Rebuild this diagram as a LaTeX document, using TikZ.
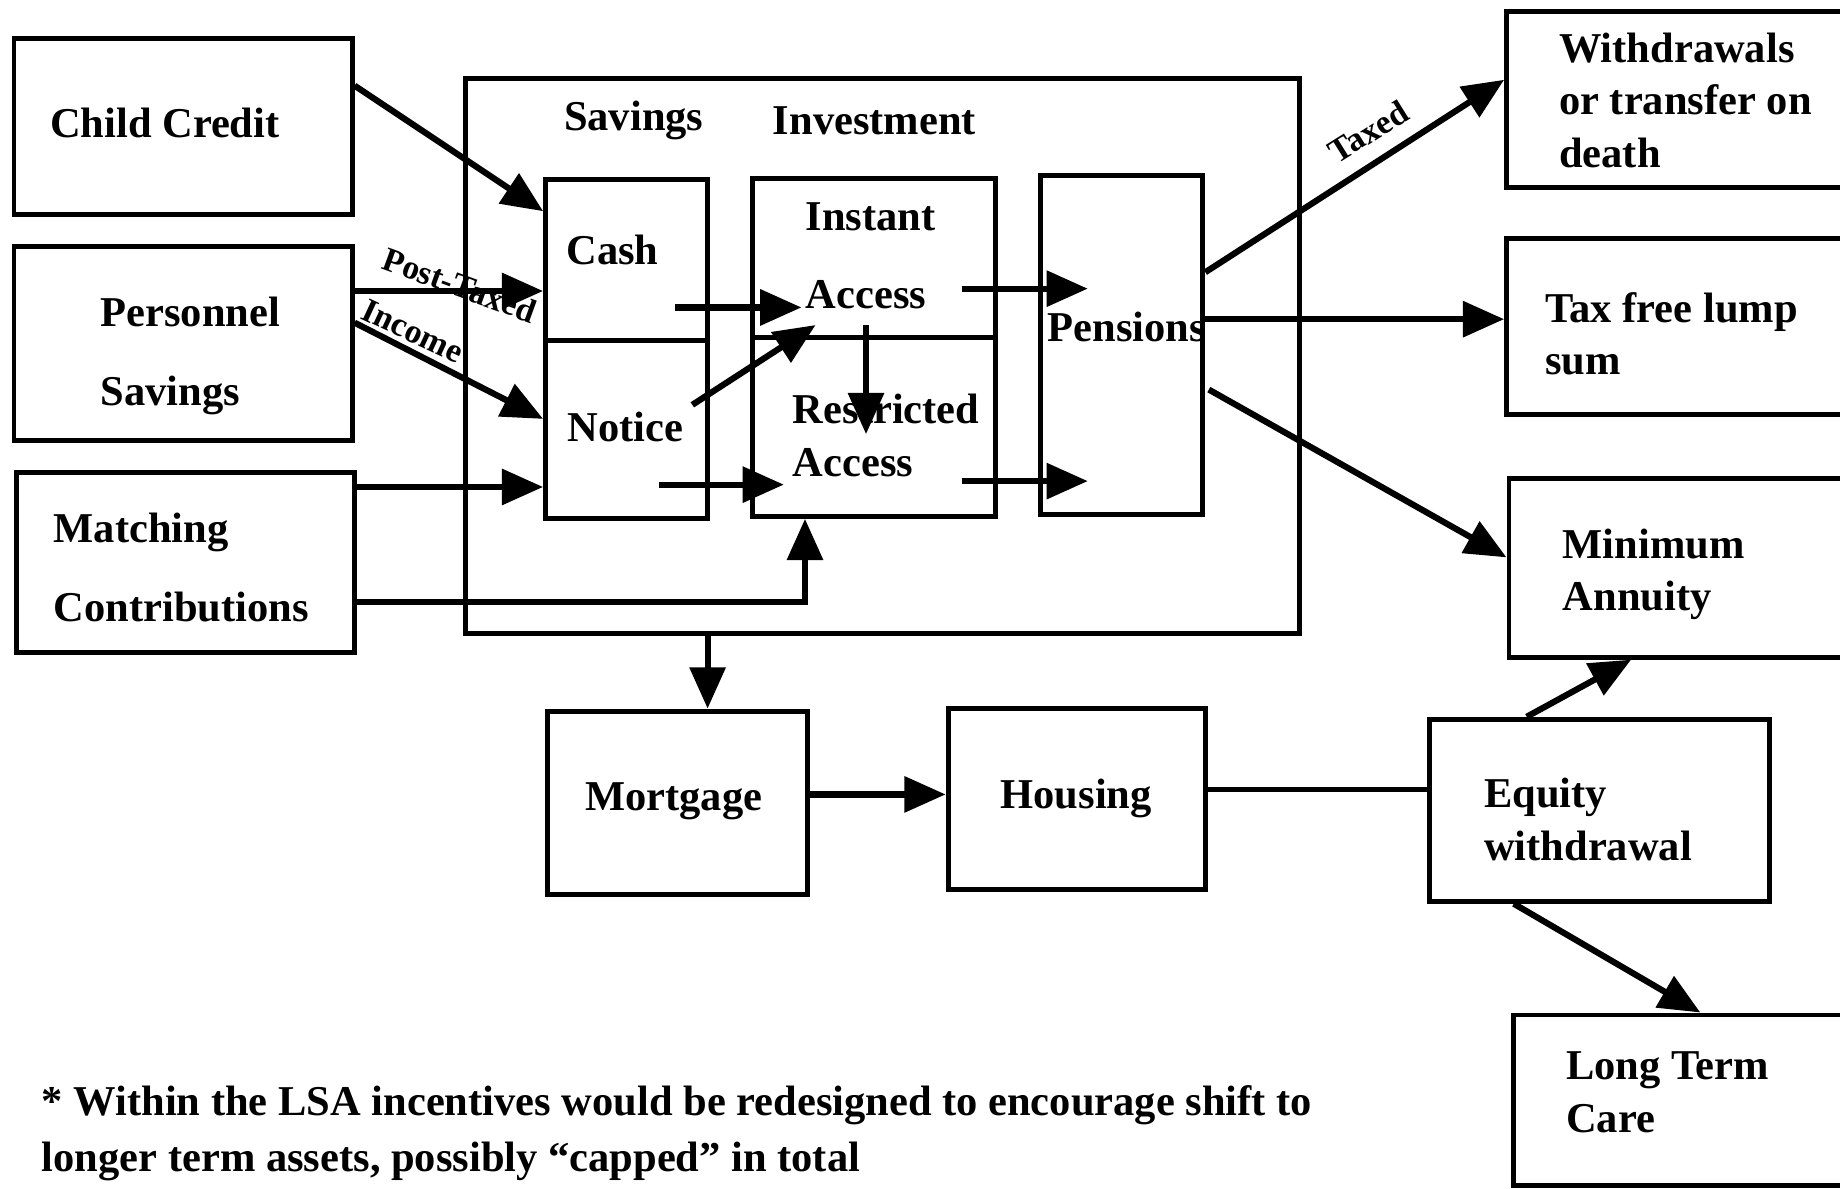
\documentclass[tikz,border=0pt]{standalone}
\usepackage{fontspec}
\setmainfont{Liberation Serif}
\usetikzlibrary{arrows.meta}

\tikzset{
  box/.style={draw, line width=1.2pt, inner sep=0pt},
  txt/.style={anchor=west, align=left, inner sep=0pt,
    font=\bfseries\fontsize{10.3}{12.8}\selectfont},
  txtwide/.style={txt, font=\bfseries\fontsize{10.3}{19}\selectfont},
  lbl/.style={inner sep=0pt, font=\bfseries\fontsize{8.2}{10}\selectfont},
  arr/.style={line width=1.5pt, -{Triangle[length=10pt,width=8.5pt]}},
}

\begin{document}
\begin{tikzpicture}[x=0.01cm, y=-0.01cm]
  \useasboundingbox (0,0) rectangle (1568,1013);

  % Entrate
  \node[box, minimum width=2.88cm, minimum height=1.50cm] (child) at (156,108) {};
  \node[box, minimum width=2.88cm, minimum height=1.65cm] (pers) at (156,292.5) {};
  \node[box, minimum width=2.88cm, minimum height=1.53cm] (match) at (158,479.5) {};

  % LSA
  \node[box, minimum width=7.10cm, minimum height=4.73cm] (lsa) at (752,303.5) {};
  \node[box, minimum width=1.38cm, minimum height=1.37cm] (cash) at (534,221.5) {};
  \node[box, minimum width=1.38cm, minimum height=1.52cm] (notice) at (534,366) {};
  \node[box, minimum width=2.07cm, minimum height=1.36cm] (instant) at (744.5,220) {};
  \node[box, minimum width=2.07cm, minimum height=1.52cm] (restr) at (744.5,364) {};
  \node[box, minimum width=1.38cm, minimum height=2.88cm] (pens) at (956,294) {};

  % Uscite
  \node[box, minimum width=3.16cm, minimum height=1.50cm] (wdraw) at (1442,85) {};
  \node[box, minimum width=3.16cm, minimum height=1.50cm] (lump) at (1442,278) {};
  \node[box, minimum width=3.14cm, minimum height=1.52cm] (annu) at (1443,484) {};

  % Casa
  \node[box, minimum width=2.21cm, minimum height=1.56cm] (mort) at (577.5,684) {};
  \node[box, minimum width=2.19cm, minimum height=1.54cm] (hous) at (917.5,681) {};
  \node[box, minimum width=2.90cm, minimum height=1.55cm] (equity) at (1363,690.5) {};
  \node[box, minimum width=3.10cm, minimum height=1.45cm] (ltc) at (1445,937.5) {};

  % Testi
  \node[txt] (childtxt) at (42,105) {Child Credit};
  \node[txtwide] (perstxt) at (85,303.5) {Personnel\\Savings};
  \node[txtwide] (matchtxt) at (45,483.5) {Matching\\Contributions};
  \node[txt] (savtxt) at (480,103) {Savings};
  \node[txt] (invtxt) at (658,103) {Investment};
  \node[txt] (cashtxt) at (482,213) {Cash};
  \node[txt] (noticetxt) at (483,364) {Notice};
  \node[txt, font=\bfseries\fontsize{10.3}{18.7}\selectfont] (instanttxt) at (686,218) {Instant\\Access};
  \node[txt] (restrtxt) at (675,371) {Restricted\\Access};
  \node[txt] (penstxt) at (892,279) {Pensions};
  \node[txt] (wdrawtxt) at (1328,85.5) {Withdrawals\\or transfer on\\death};
  \node[txt] (lumptxt) at (1316,284.5) {Tax free lump\\sum};
  \node[txt] (annutxt) at (1331,489.5) {Minimum\\Annuity};
  \node[txt] (morttxt) at (498,683) {Mortgage};
  \node[txt] (houstxt) at (852,680) {Housing};
  \node[txt] (equitytxt) at (1264,698) {Equity\\withdrawal};
  \node[txt] (ltctxt) at (1334,930.5) {Long Term\\Care};
  \node[txt, font=\bfseries\fontsize{10.3}{13.6}\selectfont] (note) at (35,966)
    {* Within the LSA incentives would be redesigned to encourage shift to\\longer term assets, possibly “capped” in total};

  % Frecce
  \draw[arr] ([shift={(0,-35)}]child.east) -- ([shift={(0,-41.5)}]cash.west);
  \draw[arr] ([shift={(0,-44.5)}]pers.east) -- ([shift={(0,26.5)}]cash.west);
  \draw[arr] ([shift={(0,-17.5)}]pers.east) -- ([shift={(0,-9)}]notice.west);
  \draw[arr] ([shift={(0,-64.5)}]match.east) -- ([shift={(0,49)}]notice.west);
  \draw[arr] ([shift={(0,33.5)}]match.east) -| ([shift={(-58.5,0)}]restr.south);
  \draw[arr] ([shift={(41,40.5)}]cash.center) -- ([shift={(-61.5,42)}]instant.center);
  \draw[arr] ([shift={(56,-21)}]notice.center) -- ([shift={(-49.5,57)}]instant.center);
  \draw[arr] ([shift={(28,47)}]notice.center) -- ([shift={(-76.5,49)}]restr.center);
  \draw[arr] ([shift={(-6.5,57)}]instant.center) -- ([shift={(-6.5,6)}]restr.center);
  \draw[arr] ([shift={(75.5,26)}]instant.center) -- ([shift={(-29,-48)}]pens.center);
  \draw[arr] ([shift={(75.5,46)}]restr.center) -- ([shift={(-29,116)}]pens.center);
  \draw[arr] ([shift={(0,-62)}]pens.east) -- ([shift={(0,-17)}]wdraw.west);
  \draw[arr] ([shift={(0,-22)}]pens.east) -- ([shift={(0,-6)}]lump.west);
  \draw[arr] ([shift={(3,38)}]pens.east) -- ([shift={(0,-9)}]annu.west);
  \draw[arr] ([shift={(-149,0)}]lsa.south) -- ([shift={(25.5,0)}]mort.north);
  \draw[arr] ([shift={(0,-7)}]mort.east) -- ([shift={(0,-4)}]hous.west);
  \draw[line width=1.2pt] ([shift={(0,-8)}]hous.east) -- ([shift={(0,-17.5)}]equity.west);
  \draw[arr] ([shift={(-62,0)}]equity.north) -- ([shift={(-53,0)}]annu.south);
  \draw[arr] ([shift={(-73,0)}]equity.south) -- ([shift={(4,0)}]ltc.north);

  % Etichette
  \node[lbl, rotate=-20] (posttax) at (392,243) {Post-Taxed};
  \node[lbl, rotate=-25] (income) at (352,282) {Income};
  \node[lbl, rotate=32] (taxed) at (1166,112) {Taxed};
\end{tikzpicture}
\end{document}
